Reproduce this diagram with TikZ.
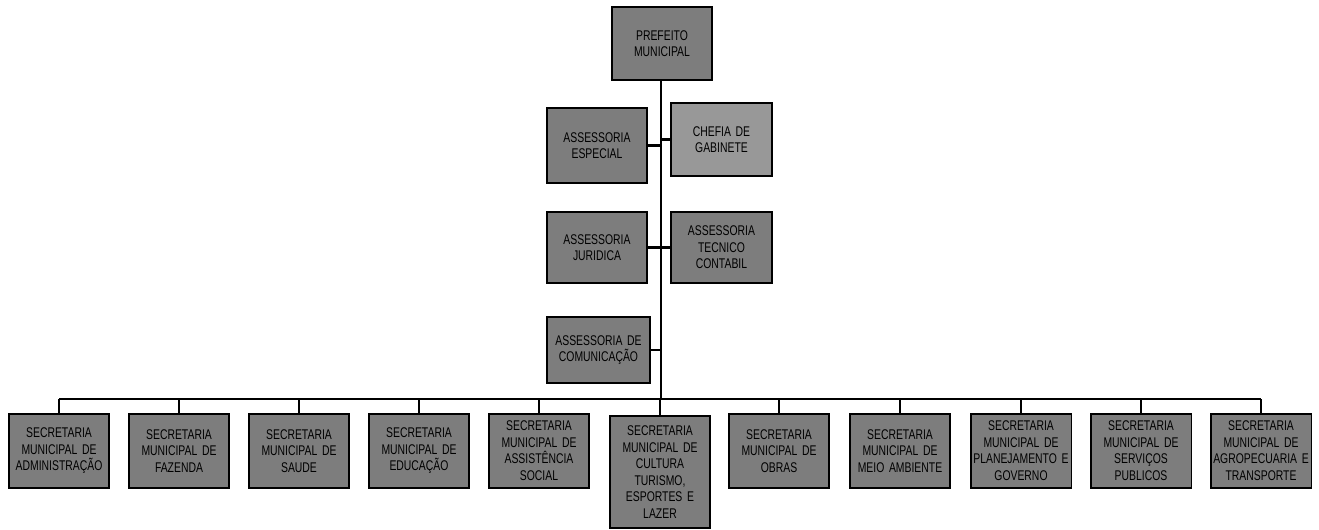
\documentclass[tikz,border=0pt]{standalone}
\usepackage{fontspec}
\newfontfamily\orgfont[FakeStretch=0.74]{Liberation Sans}
\definecolor{boxgray}{RGB}{125, 125, 125}
\definecolor{lightgray1}{RGB}{152, 152, 152}
\usetikzlibrary{positioning}

\tikzset{
  orgbox/.style={draw, line width=1pt, fill=boxgray, minimum width=2cm, inner sep=0.5pt,
    font=\orgfont\fontsize{8}{9.4}\selectfont, text width=1.98cm, align=center},
  secbox/.style={orgbox, anchor=north, minimum height=1.48cm},
  link/.style={line width=1.2pt},
}

\begin{document}
\begin{tikzpicture}[x=0.02cm, y=-0.02cm]
  \useasboundingbox (0, 0) rectangle (1319, 529);

  % top
  \node[orgbox, minimum height=1.46cm] (pm) at (662, 43.5) {PREFEITO\\MUNICIPAL};

  % advisory boxes
  \node[orgbox, minimum height=1.5cm] (ae) at (597, 145.5) {ASSESSORIA\\ESPECIAL};
  \node[orgbox, minimum height=1.46cm, fill=lightgray1] (cg) at (721.5, 139.5) {CHEFIA DE\\GABINETE};
  \node[orgbox, minimum height=1.42cm] (aj) at (597, 247.5) {ASSESSORIA\\JURIDICA};
  \node[orgbox, minimum height=1.42cm] (atc) at (721.5, 247.5) {ASSESSORIA\\TECNICO\\CONTABIL};
  \node[orgbox, minimum height=1.32cm, minimum width=2.06cm, text width=2.04cm] (ac) at (598.5, 350) {ASSESSORIA DE\\COMUNICAÇÃO};

  % secretarias
  \node[secbox] (s1) at (59, 413) {SECRETARIA\\MUNICIPAL DE\\ADMINISTRAÇÃO};
  \node[secbox] (s2) at (179, 413) {SECRETARIA\\MUNICIPAL DE\\FAZENDA};
  \node[secbox] (s3) at (299, 413) {SECRETARIA\\MUNICIPAL DE\\SAUDE};
  \node[secbox] (s4) at (419, 413) {SECRETARIA\\MUNICIPAL DE\\EDUCAÇÃO};
  \node[secbox] (s5) at (539, 413) {SECRETARIA\\MUNICIPAL DE\\ASSISTÊNCIA\\SOCIAL};
  \node[secbox, minimum height=2.24cm] (s6) at (660, 415) {SECRETARIA\\MUNICIPAL DE\\CULTURA\\TURISMO,\\ESPORTES E\\LAZER};
  \node[secbox] (s7) at (779, 413) {SECRETARIA\\MUNICIPAL DE\\OBRAS};
  \node[secbox] (s8) at (900, 413) {SECRETARIA\\MUNICIPAL DE\\MEIO AMBIENTE};
  \node[secbox] (s9) at (1021, 413) {SECRETARIA\\MUNICIPAL DE\\PLANEJAMENTO E\\GOVERNO};
  \node[secbox] (s10) at (1141, 413) {SECRETARIA\\MUNICIPAL DE\\SERVIÇOS\\PUBLICOS};
  \node[secbox] (s11) at (1261, 413) {SECRETARIA\\MUNICIPAL DE\\AGROPECUARIA E\\TRANSPORTE};

  % trunk and bus
  \coordinate (bus) at (661, 399);
  \draw[link, line width=1.5pt] (pm.south -| bus) -- (bus);
  \draw[link, line width=1.6pt] (s1.north |- bus) -- (s11.north |- bus);

  \draw[link] (ae.east) -- (ae.east -| bus);
  \draw[link] (cg.west) -- (cg.west -| bus);
  \draw[link] (aj.east) -- (atc.west);
  \draw[link] (ac.east) -- (ac.east -| bus);

  \draw[link] (s1.north) -- (s1.north |- bus);
  \draw[link] (s2.north) -- (s2.north |- bus);
  \draw[link] (s3.north) -- (s3.north |- bus);
  \draw[link] (s4.north) -- (s4.north |- bus);
  \draw[link] (s5.north) -- (s5.north |- bus);
  \draw[link] (s6.north) -- (s6.north |- bus);
  \draw[link] (s7.north) -- (s7.north |- bus);
  \draw[link] (s8.north) -- (s8.north |- bus);
  \draw[link] (s9.north) -- (s9.north |- bus);
  \draw[link] (s10.north) -- (s10.north |- bus);
  \draw[link] (s11.north) -- (s11.north |- bus);
\end{tikzpicture}
\end{document}
